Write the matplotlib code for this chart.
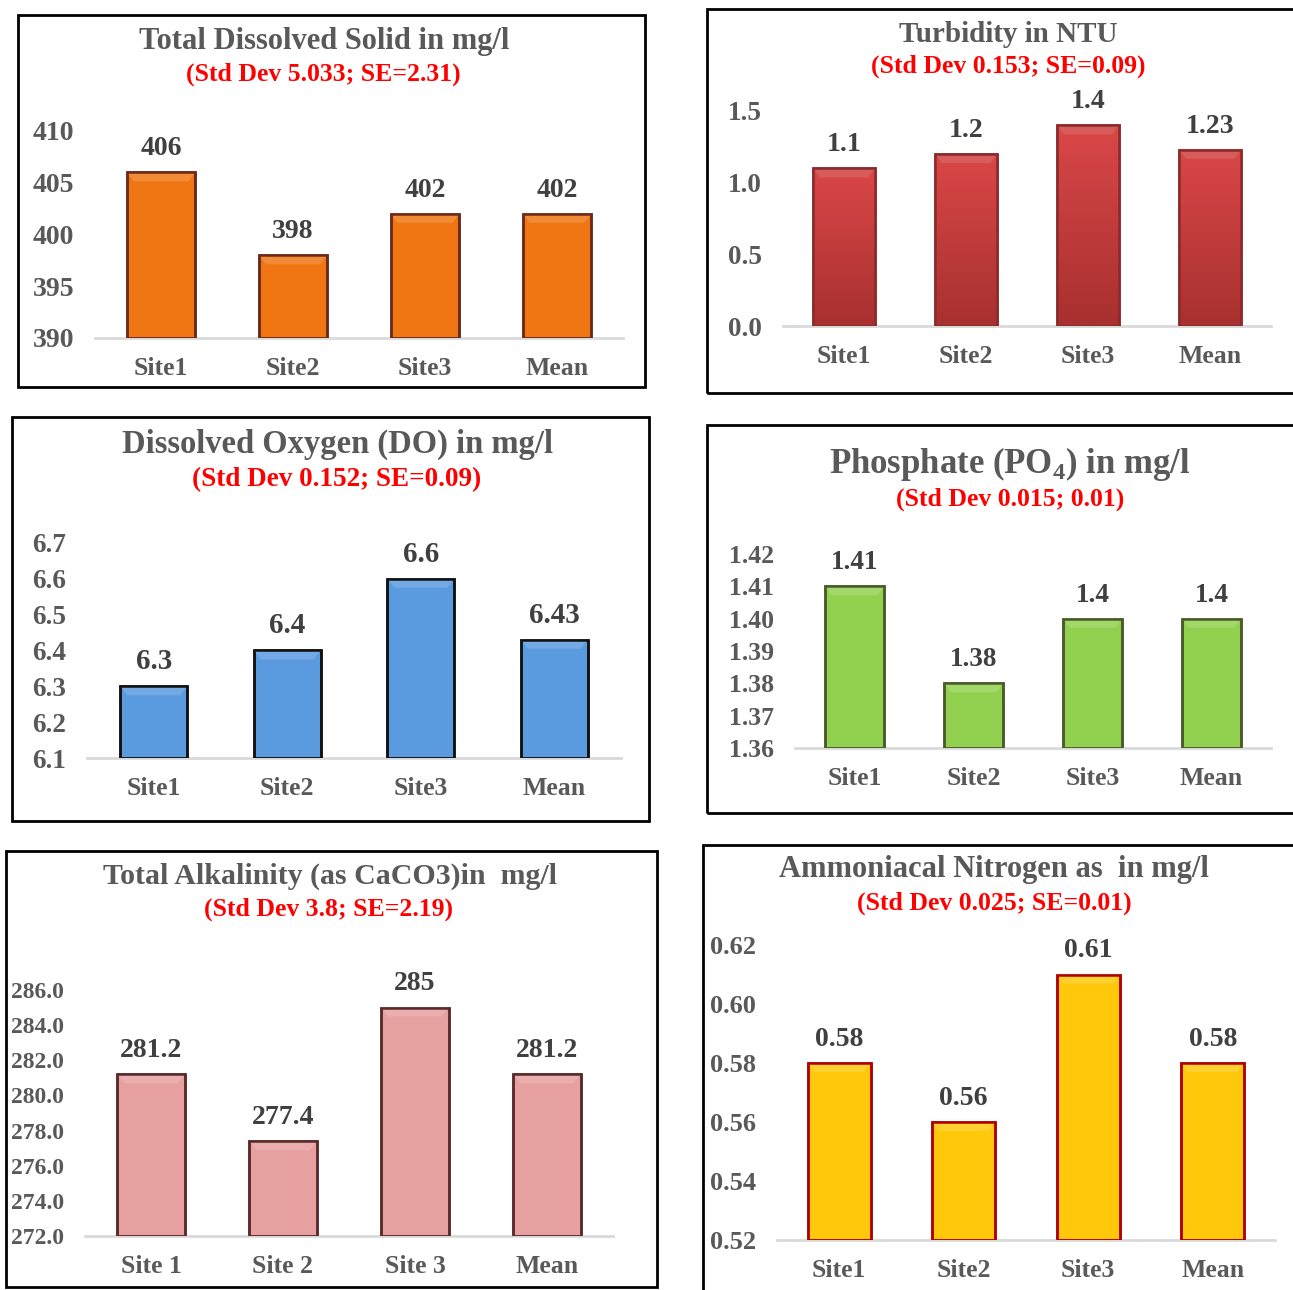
import numpy as np
import matplotlib
matplotlib.use("Agg")
import matplotlib.pyplot as plt
from matplotlib.patches import Rectangle, Polygon
from matplotlib.colors import to_rgb, LinearSegmentedColormap

plt.rcParams['font.family'] = ['Liberation Serif', 'DejaVu Serif']
plt.rcParams['font.weight'] = 'bold'
plt.rcParams['mathtext.fontset'] = 'custom'
plt.rcParams['mathtext.bf'] = 'Liberation Serif:bold'
plt.rcParams['mathtext.rm'] = 'Liberation Serif:bold'

W, H = 1293, 1290
GREY = '#595959'

# DATA
sites = ['Site1', 'Site2', 'Site3', 'Mean']
sites_spaced = ['Site 1', 'Site 2', 'Site 3', 'Mean']

tds = [406, 398, 402, 402]
turbidity = [1.1, 1.2, 1.4, 1.23]
dissolved_oxygen = [6.3, 6.4, 6.6, 6.43]
phosphate = [1.41, 1.38, 1.40, 1.40]
alkalinity = [281.2, 277.4, 285.0, 281.2]
ammonia = [0.58, 0.56, 0.61, 0.58]

tds_ticks = [390, 395, 400, 405, 410]
turbidity_ticks = [0.0, 0.5, 1.0, 1.5]
do_ticks = [6.1, 6.2, 6.3, 6.4, 6.5, 6.6, 6.7]
phosphate_ticks = [1.36, 1.37, 1.38, 1.39, 1.40, 1.41, 1.42]
alkalinity_ticks = [272, 274, 276, 278, 280, 282, 284, 286]
ammonia_ticks = [0.52, 0.54, 0.56, 0.58, 0.60, 0.62]

fig = plt.figure(figsize=(W / 100, H / 100), dpi=100)


def fx(x):
    return x / W


def fy(y):
    return 1 - y / H


def lighten(c, f):
    r = np.array(to_rgb(c))
    return tuple(r + (1 - r) * f)


def panel(border, area, cats, vals, ticks, fmt, color, edge, bar_w,
          title, sub, title_xy, sub_xy, title_size, sub_size, tick_size, val_size,
          gradient=None):
    # black frame round the panel
    bx0, by0, bx1, by1 = border
    fig.patches.append(Rectangle((fx(bx0), fy(by1)), fx(bx1 - bx0), (by1 - by0) / H,
                                 transform=fig.transFigure, fill=False,
                                 edgecolor='black', linewidth=2))
    x0, ytop, x1, ybase = area
    ax = fig.add_axes([fx(x0), fy(ybase), fx(x1 - x0), (ybase - ytop) / H])
    pos = np.arange(len(cats))
    ypx = (ticks[-1] - ticks[0]) / (ybase - ytop)    # data units per pixel
    xpx = len(cats) / (x1 - x0)
    bars = ax.bar(pos, np.array(vals) - ticks[0], bottom=ticks[0], width=bar_w,
                  color=color, edgecolor=edge, linewidth=1.8, zorder=3)
    for b, v in zip(bars, vals):
        bl, br = b.get_x(), b.get_x() + b.get_width()
        if gradient is not None:
            cmap = LinearSegmentedColormap.from_list('g', [gradient[1], gradient[0]])
            ax.imshow(np.linspace(0, 1, 100).reshape(-1, 1), cmap=cmap, aspect='auto',
                      origin='lower', extent=(bl, br, ticks[0], v), zorder=3.5)
        # soft bevel along the top of the bar
        hi = 9 * ypx
        ins = 7 * xpx
        ax.add_patch(Polygon([(bl, v), (br, v), (br - ins, v - hi), (bl + ins, v - hi)],
                             closed=True, facecolor=lighten(color, 0.15),
                             edgecolor='none', zorder=4))
        ax.add_patch(Rectangle((bl, ticks[0]), br - bl, v - ticks[0], fill=False,
                               edgecolor=edge, linewidth=1.8, zorder=5))
        ax.annotate('{:g}'.format(v), ((bl + br) / 2, v),
                    xytext=(0, 8), textcoords='offset points', ha='center', va='bottom',
                    fontsize=val_size, color='#404040', fontweight='bold',
                    annotation_clip=False)
    ax.set_xlim(-0.5, len(cats) - 0.5)
    ax.set_ylim(ticks[0], ticks[-1])
    ax.set_yticks(ticks)
    ax.set_yticklabels([fmt.format(t) for t in ticks])
    ax.set_xticks(pos)
    ax.set_xticklabels(cats)
    ax.tick_params(axis='both', length=0, labelcolor=GREY)
    ax.tick_params(axis='x', pad=14, labelsize=18.5)
    ax.tick_params(axis='y', pad=15, labelsize=tick_size)
    for s in ['top', 'right', 'left']:
        ax.spines[s].set_visible(False)
    ax.spines['bottom'].set_color('#D9D9D9')
    ax.spines['bottom'].set_linewidth(2)
    ax.patch.set_alpha(0)
    fig.text(fx(title_xy[0]), fy(title_xy[1]), title, ha='center', va='center',
             fontsize=title_size, color=GREY, fontweight='bold')
    fig.text(fx(sub_xy[0]), fy(sub_xy[1]), sub, ha='center', va='center',
             fontsize=sub_size, color='#FF0000', fontweight='bold')
    return ax


panel((18, 15, 645, 387), (95, 131, 623, 338), sites, tds, tds_ticks, '{:.0f}',
      '#F07613', '#6B2A1A', 0.52,
      'Total Dissolved Solid in mg/l', '(Std Dev 5.033; SE=2.31)', (324, 41), (323, 74),
      22, 18.5, 20, 20)

panel((707, 9, 1300, 393), (783, 111, 1271, 326), sites, turbidity, turbidity_ticks, '{:.1f}',
      '#D04040', '#8B2A2A', 0.51,
      'Turbidity in NTU', '(Std Dev 0.153; SE=0.09)', (1008, 34), (1008, 66),
      21, 18.5, 19.5, 20, gradient=('#DA4747', '#A83030'))

panel((12, 417, 649, 821), (87, 543, 621, 758), sites, dissolved_oxygen, do_ticks, '{:.1f}',
      '#5A9BE0', '#111111', 0.5,
      'Dissolved Oxygen (DO) in mg/l', '(Std Dev 0.152; SE=0.09)', (338, 444), (337, 480),
      23.5, 19.5, 19.5, 21)

panel((707, 425, 1300, 813), (795, 554, 1271, 748), sites, phosphate, phosphate_ticks, '{:.2f}',
      '#92D050', '#4A5A2A', 0.5,
      r'Phosphate (PO$_\mathbf{4}$) in mg/l', '(Std Dev 0.015; 0.01)', (1010, 464), (1010, 499),
      25, 18.5, 18.5, 19.5)

panel((6, 851, 657, 1287), (85, 990, 613, 1236), sites_spaced, alkalinity, alkalinity_ticks, '{:.1f}',
      '#E6A0A0', '#5A2A2A', 0.51,
      'Total Alkalinity (as CaCO3)in  mg/l', '(Std Dev 3.8; SE=2.19)', (330, 876), (328, 909),
      21.5, 18.5, 17, 20)

panel((703, 845, 1300, 1300), (777, 945, 1275, 1240), sites, ammonia, ammonia_ticks, '{:.2f}',
      '#FFC80A', '#B00000', 0.51,
      'Ammoniacal Nitrogen as  in mg/l', '(Std Dev 0.025; SE=0.01)', (994, 869), (994, 903),
      22, 18.5, 19, 20)

fig.savefig('out.png', dpi=100)
